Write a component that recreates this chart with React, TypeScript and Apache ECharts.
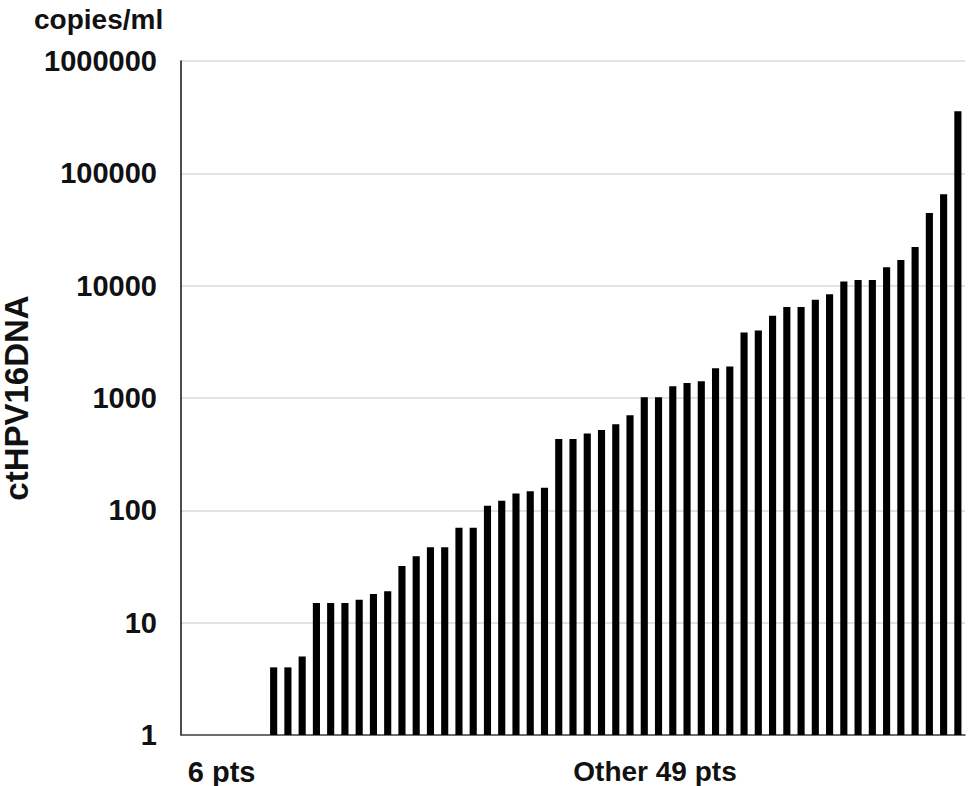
import React, { useEffect, useRef } from "react";
import * as echarts from "echarts";

// Patients without detectable ctHPV16DNA (6 pts) – no bar drawn
const undetectedValues: (number | null)[] = [null, null, null, null, null, null];

// ctHPV16DNA copies/ml of the other 49 pts (sorted)
const detectedValues: number[] = [
  4, 4, 5, 15, 15, 15, 16, 18, 19, 32, 39, 47, 47, 70, 70, 110, 122, 141, 148, 159,
  432, 432, 482, 520, 584, 703, 1016, 1016, 1274, 1362, 1411, 1842, 1905, 3823, 3993,
  5395, 6473, 6473, 7488, 8383, 10870, 11240, 11240, 14580, 16900, 22070, 44400, 65000,
  356600,
];

const seriesValues: (number | null)[] = [...undetectedValues, ...detectedValues];
const categories: string[] = seriesValues.map((_, i) => `pt${i + 1}`);

// group tick labels on the x axis
const groupLabels: string[] = ["6 pts", "Other 49 pts"];
const groupLabelIndex: number[] = [2, 33];

const yTickValues: number[] = [1, 10, 100, 1000, 10000, 100000, 1000000];

const FONT = "'Liberation Sans', Arial, sans-serif";

export default function App() {
  const ref = useRef<HTMLDivElement>(null);

  useEffect(() => {
    if (!ref.current) return;
    const chart = echarts.init(ref.current, undefined, { renderer: "svg" });
    chart.setOption({
      animation: false,
      backgroundColor: "#ffffff",
      title: {
        text: "copies/ml",
        left: 29,
        top: 0,
        textStyle: { fontFamily: FONT, fontWeight: "bold", fontSize: 28, color: "#111" },
      },
      grid: { left: 181, right: 3, top: 61, bottom: 51, outerBoundsMode: "none" },
      xAxis: {
        type: "category",
        data: categories,
        axisLine: { show: true, lineStyle: { color: "#444", width: 1.5 } },
        axisTick: { show: false },
        axisLabel: {
          interval: 0,
          margin: 22,
          fontFamily: FONT,
          fontWeight: "bold",
          fontSize: 28,
          color: "#111",
          formatter: (_v: string, idx: number) => {
            const k = groupLabelIndex.indexOf(idx);
            if (k < 0) return "";
            return k === 0 ? `{g0|${groupLabels[k]}}` : `{g1|${groupLabels[k]}}`;
          },
          rich: {
            g0: { fontFamily: FONT, fontWeight: "bold", fontSize: 29, color: "#111", padding: [0, 0, 0, 10] },
            g1: { fontFamily: FONT, fontWeight: "bold", fontSize: 28, color: "#111", padding: [0, 7, 0, 0] },
          },
        },
        splitLine: { show: false },
      },
      yAxis: {
        type: "log",
        logBase: 10,
        min: yTickValues[0],
        max: yTickValues[yTickValues.length - 1],
        name: "ctHPV16DNA",
        nameLocation: "middle",
        nameGap: 158,
        nameRotate: 90,
        nameTextStyle: {
          fontFamily: FONT,
          fontWeight: "bold",
          fontSize: 33,
          lineHeight: 30,
          color: "#111",
          verticalAlign: "middle",
        },
        axisLine: { show: true, lineStyle: { color: "#111", width: 1.5 } },
        axisTick: { show: false },
        axisLabel: {
          margin: 24,
          fontFamily: FONT,
          fontWeight: "bold",
          fontSize: 29,
          color: "#111",
          formatter: (v: number) => String(Math.round(v)),
        },
        splitLine: { show: true, lineStyle: { color: "#d9d9d9", width: 1.5 } },
      },
      series: [
        {
          type: "bar",
          data: seriesValues.map((v) => (v == null ? "-" : v)),
          barWidth: "50%",
          itemStyle: { color: "#000" },
        },
      ],
    });
    return () => chart.dispose();
  }, []);

  return <div ref={ref} style={{ width: 968, height: 786, position: "absolute", left: 0, top: 0 }} />;
}
